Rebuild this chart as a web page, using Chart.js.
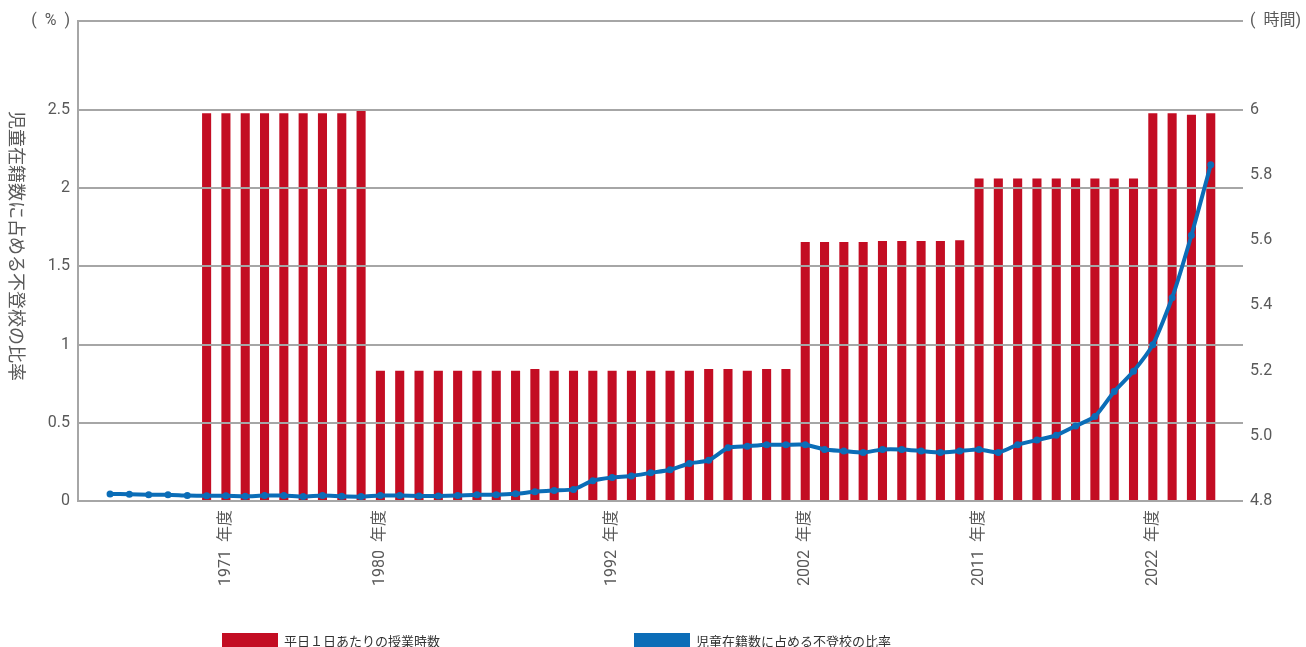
<!DOCTYPE html>
<html lang="ja">
<head>
    <meta charset="UTF-8">
    <title>授業時数と不登校の比率</title>
    <script src="https://cdn.jsdelivr.net/npm/chart.js"></script>
    <style>
        body {
            margin: 0;
            background: #ffffff;
            font-family: Roboto, "Noto Sans CJK JP", sans-serif;
        }

        .wrap {
            position: relative;
            width: 1306px;
            height: 647px;
        }

        .legend {
            position: absolute;
            top: 631px;
            font-size: 13px;
            color: #333333;
            display: flex;
            align-items: center;
            white-space: nowrap;
        }

        .legend i {
            display: inline-block;
            width: 56px;
            height: 16px;
            margin-right: 6px;
        }
    </style>
</head>
<body>
    <div class="wrap">
        <canvas id="chart" width="1306" height="647"></canvas>
        <div class="legend" style="left:222px"><i style="background:#c30d23"></i>平日１日あたりの授業時数</div>
        <div class="legend" style="left:634px"><i style="background:#0b6db7"></i>児童在籍数に占める不登校の比率</div>
    </div>

    <script>
        // 年度 1966 - 2023
        const years = [];
        for (let y = 1966; y <= 2023; y++) years.push(y);

        // x axis labels, keyed by the year position they sit under
        const tickLabels = {
            1972: '1971  年度',
            1980: '1980  年度',
            1992: '1992  年度',
            2002: '2002  年度',
            2011: '2011  年度',
            2020: '2022  年度'
        };

        // 平日１日あたりの授業時数 (hours), no bars before 1971
        const hours = [
            null, null, null, null, null,
            5.99, 5.99, 5.99, 5.99, 5.99, 5.99, 5.99, 5.99, 6.0,
            5.2, 5.2, 5.2, 5.2, 5.2, 5.2, 5.2, 5.2, 5.205, 5.2, 5.2,
            5.2, 5.2, 5.2, 5.2, 5.2, 5.2, 5.205, 5.205, 5.2, 5.205, 5.205,
            5.595, 5.595, 5.595, 5.595, 5.598, 5.598, 5.598, 5.598, 5.6,
            5.79, 5.79, 5.79, 5.79, 5.79, 5.79, 5.79, 5.79, 5.79,
            5.99, 5.99, 5.985, 5.99
        ];

        // 児童在籍数に占める不登校の比率 (%)
        const absentRate = [
            0.045, 0.043, 0.04, 0.04, 0.035,
            0.033, 0.033, 0.03, 0.035, 0.035, 0.028, 0.035, 0.03, 0.028,
            0.035, 0.035, 0.032, 0.032, 0.035, 0.04, 0.04, 0.046, 0.059, 0.067, 0.074,
            0.13, 0.15, 0.16, 0.18, 0.2, 0.24, 0.26, 0.34, 0.35, 0.36, 0.36,
            0.36, 0.33, 0.32, 0.31, 0.33, 0.33, 0.32, 0.31, 0.32,
            0.33, 0.31, 0.36, 0.39, 0.42, 0.48, 0.54, 0.7, 0.83,
            1.0, 1.3, 1.7, 2.15
        ];

        const leftTicks = [0, 0.5, 1, 1.5, 2, 2.5];
        const rightTicks = [4.8, 5.0, 5.2, 5.4, 5.6, 5.8, 6.0];
        const leftMax = 3.07;
        const rightMax = 6.273;

        const tickColor = '#595959';
        const gridColor = '#a6a6a6';
        const tickFont = { size: 16, family: 'Roboto, "Noto Sans CJK JP"' };

        // horizontal lines over the bars, under the line
        const gridOverBars = {
            id: 'gridOverBars',
            beforeDatasetDraw(chart, args) {
                if (args.index !== 1) return;
                const y = chart.scales.y;
                const area = chart.chartArea;
                const ctx = chart.ctx;
                ctx.save();
                ctx.strokeStyle = gridColor;
                ctx.lineWidth = 2;
                y.ticks.forEach((t, i) => {
                    const py = Math.round(y.getPixelForTick(i));
                    ctx.beginPath();
                    ctx.moveTo(area.left, py);
                    ctx.lineTo(area.right, py);
                    ctx.stroke();
                });
                ctx.restore();
            }
        };

        // left side title, rotated clockwise
        const sideTitle = {
            id: 'sideTitle',
            afterDraw(chart) {
                const ctx = chart.ctx;
                ctx.save();
                ctx.translate(17, 246);
                ctx.rotate(Math.PI / 2);
                ctx.fillStyle = tickColor;
                ctx.font = '18px "Noto Sans CJK JP"';
                ctx.textAlign = 'center';
                ctx.textBaseline = 'middle';
                ctx.fillText('児童在籍数に占める不登校の比率', 0, 0);
                ctx.restore();
            }
        };

        const ctx = document.getElementById('chart').getContext('2d');
        new Chart(ctx, {
            data: {
                labels: years,
                datasets: [{
                    type: 'bar',
                    label: '平日１日あたりの授業時数',
                    data: hours,
                    yAxisID: 'y2',
                    backgroundColor: '#c30d23',
                    barPercentage: 0.47,
                    categoryPercentage: 1.0,
                    order: 1
                }, {
                    type: 'line',
                    label: '児童在籍数に占める不登校の比率',
                    data: absentRate,
                    yAxisID: 'y',
                    borderColor: '#0b6db7',
                    backgroundColor: '#0b6db7',
                    borderWidth: 4,
                    pointRadius: 3.5,
                    pointBorderWidth: 0,
                    tension: 0.2,
                    order: 0
                }]
            },
            options: {
                responsive: false,
                animation: false,
                layout: {
                    padding: { top: 21, left: 0, right: 0, bottom: 0 }
                },
                plugins: {
                    legend: { display: false },
                    tooltip: { enabled: false }
                },
                scales: {
                    x: {
                        type: 'linear',
                        min: 1964.34,
                        max: 2024.67,
                        offset: false,
                        grid: { display: false, drawTicks: false },
                        border: { display: false },
                        afterBuildTicks(scale) {
                            scale.ticks = Object.keys(tickLabels).map(v => ({ value: Number(v) }));
                        },
                        afterFit(scale) { scale.height = 146; },
                        ticks: {
                            autoSkip: false,
                            maxRotation: 90,
                            minRotation: 90,
                            color: tickColor,
                            padding: 9,
                            font: tickFont,
                            callback: function(value) {
                                return tickLabels[value] || '';
                            }
                        }
                    },
                    y: {
                        position: 'left',
                        min: 0,
                        max: leftMax,
                        grid: { display: false, drawTicks: false },
                        border: { display: true, color: gridColor, width: 2 },
                        afterBuildTicks(scale) {
                            scale.ticks = leftTicks.concat([leftMax]).map(v => ({ value: v }));
                        },
                        afterFit(scale) { scale.width = 78; },
                        ticks: {
                            color: tickColor,
                            padding: 8,
                            font: tickFont,
                            callback: function(value) {
                                return value === leftMax ? '(  %  )' : String(value);
                            }
                        }
                    },
                    y2: {
                        position: 'right',
                        min: 4.8,
                        max: rightMax,
                        grid: { display: false, drawTicks: false },
                        border: { display: false },
                        afterBuildTicks(scale) {
                            scale.ticks = rightTicks.concat([rightMax]).map(v => ({ value: v }));
                        },
                        afterFit(scale) { scale.width = 63; },
                        ticks: {
                            color: tickColor,
                            padding: 7,
                            font: tickFont,
                            callback: function(value) {
                                if (value === rightMax) return '(  時間)';
                                return value === 6 ? '6' : value.toFixed(1);
                            }
                        }
                    }
                }
            },
            plugins: [gridOverBars, sideTitle]
        });
    </script>
</body>
</html>
